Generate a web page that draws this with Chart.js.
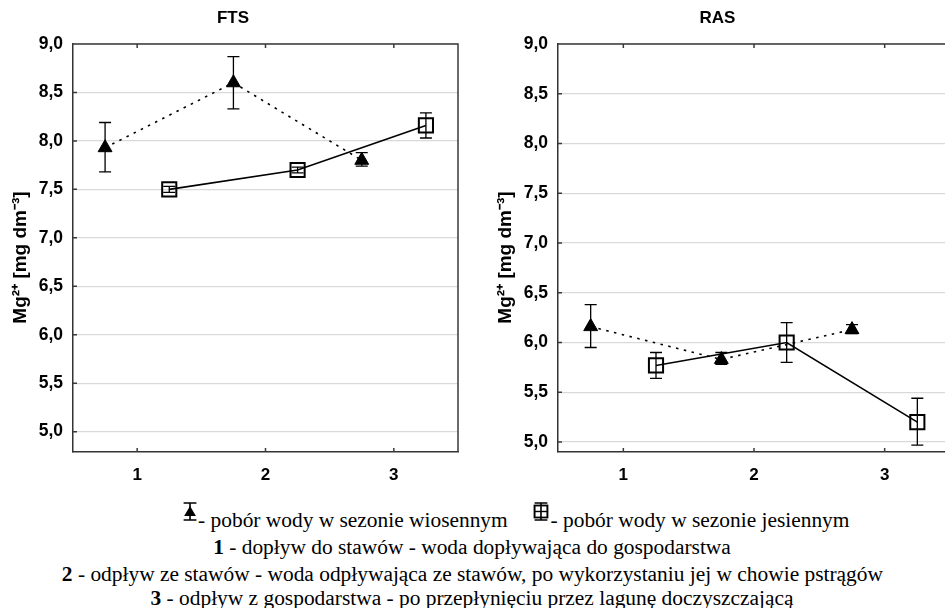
<!DOCTYPE html>
<html>
<head>
<meta charset="utf-8">
<script src="https://cdn.jsdelivr.net/npm/chart.js@4.4.0/dist/chart.umd.min.js"></script>
<style>
  html, body { margin: 0; background: #fff; }
  body { width: 945px; height: 608px; overflow: hidden; position: relative; }
  #box-fts { position: absolute; left: 0; top: 0; }
  #box-ras { position: absolute; left: 470px; top: 0; }
  .note { position: absolute; left: 0; width: 944px; text-align: center; font-family: "Liberation Serif", serif;
          font-size: 20px; line-height: 26px; color: #000; white-space: nowrap;
          transform: scaleX(1.07); transform-origin: 472px 0; }
  .note svg { vertical-align: middle; position: relative; top: -11px; }
</style>
</head>
<body>
<div id="box-fts"><canvas id="fts" width="470" height="490"></canvas></div>
<div id="box-ras"><canvas id="ras" width="500" height="490"></canvas></div>

<div class="note" style="left:182px; width:auto; text-align:left; top:507px; transform-origin:0 0;">
  <svg width="15" height="21" viewBox="0 0 15 21"><path d="M1.5 2H13.5M7.5 2V19M1.5 19H13.5" stroke="#000" stroke-width="1.5" fill="none"/><path d="M7.5 5L13 15H2Z" fill="#000"/></svg>- pobór wody w sezonie wiosennym<span style="display:inline-block;width:23px"></span><svg width="17" height="21" viewBox="0 0 17 21"><path d="M2.5 2H14.5M8.5 2V19M2.5 19H14.5" stroke="#000" stroke-width="1.5" fill="none"/><rect x="2.5" y="4.5" width="12" height="12" stroke="#000" stroke-width="1.8" fill="none"/><path d="M2.5 10.5H14.5" stroke="#000" stroke-width="1.4"/></svg>- pobór wody w sezonie jesiennym
</div>
<div class="note" style="top:534px"><b>1</b> - dopływ do stawów - woda dopływająca do gospodarstwa</div>
<div class="note" style="top:561px; transform-origin:466px 0;"><b>2</b> - odpływ ze stawów - woda odpływająca ze stawów, po wykorzystaniu jej w chowie pstrągów</div>
<div class="note" style="top:585px"><b>3</b> - odpływ z gospodarstwa - po przepłynięciu przez lagunę doczyszczającą</div>

<script>
const sites = [1, 2, 3];
const yTicks = [5.0, 5.5, 6.0, 6.5, 7.0, 7.5, 8.0, 8.5, 9.0];

// FTS
const ftsSpring = [7.93, 8.60, 7.80];
const ftsSpringLow = [7.68, 8.33, 7.74];
const ftsSpringHigh = [8.19, 8.87, 7.88];
const ftsAutumn = [7.50, 7.70, 8.16];
const ftsAutumnLow = [7.47, 7.67, 8.03];
const ftsAutumnHigh = [7.53, 7.73, 8.29];

// RAS
const rasSpring = [6.16, 5.83, 6.13];
const rasSpringLow = [5.95, 5.78, 6.09];
const rasSpringHigh = [6.38, 5.90, 6.18];
const rasAutumn = [5.77, 6.00, 5.20];
const rasAutumnLow = [5.64, 5.80, 4.97];
const rasAutumnHigh = [5.90, 6.20, 5.44];

const sansBold = function (size) {
  return { family: "'Liberation Sans', Arial, sans-serif", size: size, weight: 'bold' };
};

// vertical error bars with caps, drawn on top of the lines
const errorBars = {
  id: 'errorBars',
  afterDatasetsDraw(chart) {
    const ctx = chart.ctx;
    const x = chart.scales.x;
    const y = chart.scales.y;
    ctx.save();
    ctx.strokeStyle = '#000';
    ctx.lineWidth = 1.3;
    chart.data.datasets.forEach(function (ds) {
      ds.data.forEach(function (p, i) {
        const px = x.getPixelForValue(p.x);
        const lo = y.getPixelForValue(ds.errLow[i]);
        const hi = y.getPixelForValue(ds.errHigh[i]);
        ctx.beginPath();
        ctx.moveTo(px, lo); ctx.lineTo(px, hi);
        ctx.moveTo(px - 6, lo); ctx.lineTo(px + 6, lo);
        ctx.moveTo(px - 6, hi); ctx.lineTo(px + 6, hi);
        ctx.stroke();
      });
    });
    ctx.restore();
  }
};

// top/right frame and the small inward tick marks
const frame = {
  id: 'frame',
  afterDraw(chart) {
    const ctx = chart.ctx;
    const a = chart.chartArea;
    const x = chart.scales.x;
    const y = chart.scales.y;
    ctx.save();
    ctx.strokeStyle = '#3a3a3a';
    ctx.lineWidth = 1.5;
    ctx.beginPath();
    ctx.moveTo(a.left, a.top); ctx.lineTo(a.right, a.top); ctx.lineTo(a.right, a.bottom);
    sites.forEach(function (v) {
      const px = x.getPixelForValue(v);
      ctx.moveTo(px, a.top); ctx.lineTo(px, a.top + 4);
      ctx.moveTo(px, a.bottom); ctx.lineTo(px, a.bottom - 4);
    });
    yTicks.forEach(function (v) {
      const py = y.getPixelForValue(v);
      ctx.moveTo(a.left, py); ctx.lineTo(a.left + 4, py);
    });
    ctx.stroke();
    ctx.restore();
  }
};

function createChart(id, title, spring, springLow, springHigh, autumn, autumnLow, autumnHigh, yMin, pad) {
  new Chart(document.getElementById(id), {
    type: 'line',
    data: {
      datasets: [
        {
          label: 'wiosna',
          data: sites.map(function (s, i) { return { x: s - 0.25, y: spring[i] }; }),
          errLow: springLow,
          errHigh: springHigh,
          borderColor: '#000',
          borderWidth: 1.6,
          borderDash: [2.5, 5.5],
          pointStyle: 'triangle',
          pointRadius: 8,
          pointBackgroundColor: '#000',
          pointBorderColor: '#000',
          pointBorderWidth: 1,
          tension: 0
        },
        {
          label: 'jesień',
          data: sites.map(function (s, i) { return { x: s + 0.25, y: autumn[i] }; }),
          errLow: autumnLow,
          errHigh: autumnHigh,
          borderColor: '#000',
          borderWidth: 1.6,
          pointStyle: 'rect',
          pointRadius: 10,
          pointBackgroundColor: 'rgba(0,0,0,0)',
          pointBorderColor: '#000',
          pointBorderWidth: 2,
          tension: 0
        }
      ]
    },
    options: {
      responsive: false,
      animation: false,
      devicePixelRatio: 1,
      layout: { padding: pad },
      plugins: {
        legend: { display: false },
        tooltip: { enabled: false },
        title: {
          display: true,
          text: title,
          color: '#000',
          font: sansBold(17),
          padding: { top: 8, bottom: 15.6 }
        }
      },
      scales: {
        x: {
          type: 'linear',
          min: 0.5,
          max: 3.5,
          afterBuildTicks: function (s) { s.ticks = sites.map(function (v) { return { value: v }; }); },
          afterFit: function (s) { s.height = 38; },
          grid: { display: false, drawTicks: false },
          border: { display: true, color: '#333', width: 1.5 },
          ticks: { padding: 13, color: '#000', font: sansBold(17) }
        },
        y: {
          min: yMin,
          max: 9,
          afterBuildTicks: function (s) { s.ticks = yTicks.map(function (v) { return { value: v }; }); },
          afterFit: function (s) { s.width = 73; },
          grid: { color: '#d9d9d9', lineWidth: 1.2, drawTicks: false },
          border: { display: true, color: '#333', width: 1.5 },
          ticks: {
            padding: 10,
            color: '#000',
            font: sansBold(17.5),
            callback: function (v) { return v.toFixed(1).replace('.', ','); }
          },
          title: {
            display: true,
            text: 'Mg²⁺ [mg dm⁻³]\u2003',
            color: '#000',
            font: sansBold(19),
            padding: { top: 9, bottom: 0 }
          }
        }
      }
    },
    plugins: [errorBars, frame]
  });
}

createChart('fts', 'FTS', ftsSpring, ftsSpringLow, ftsSpringHigh, ftsAutumn, ftsAutumnLow, ftsAutumnHigh, 4.79,
  { left: 0, right: 4, top: 0, bottom: 0 });
createChart('ras', 'RAS', rasSpring, rasSpringLow, rasSpringHigh, rasAutumn, rasAutumnLow, rasAutumnHigh, 4.9,
  { left: 15, right: 20, top: 0, bottom: 0 });
</script>
</body>
</html>
